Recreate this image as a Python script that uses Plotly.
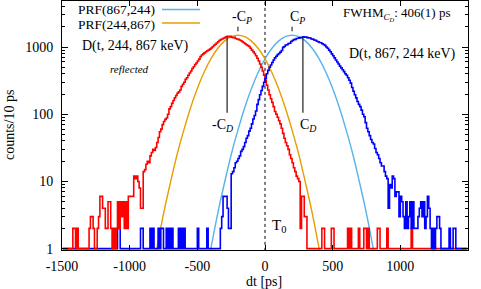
import math
import plotly.graph_objects as go

# ---------------- data ----------------
bin_width = 10
bin_start = -1500
n_bins = 300
bin_centers = [bin_start + bin_width * (i + 0.5) for i in range(n_bins)]

# D(t, 244, 867 keV) reflected  (red) -- counts per 10 ps bin, rows of 100 ps starting at -1500
red_counts = [
    1, 1, 1, 1, 1, 1, 1, 1, 2, 2,            # -1500
    1, 2, 1, 1, 1, 1, 1, 1, 1, 1,            # -1400
    2, 3, 3, 2, 1, 1, 2, 3, 6, 6,            # -1300
    4, 4, 2, 2, 5, 5, 2, 1, 2, 1,            # -1200
    2, 5, 2, 5, 3, 5, 2, 5, 2, 6,            # -1100
    6, 6, 6, 12, 11, 12, 10, 8, 4, 4,        # -1000
    14, 15, 18, 20, 19, 24, 27, 30, 29, 32,  # -900
    38, 45, 55, 60, 70, 78, 84, 88, 100, 120,        # -800
    130, 145, 160, 175, 190, 205, 215, 230, 260, 280,  # -700
    300, 330, 350, 380, 410, 440, 480, 510, 550, 580,  # -600
    620, 660, 720, 760, 790, 820, 850, 880, 900, 930,  # -500
    970, 1010, 1060, 1100, 1150, 1200, 1250, 1290, 1320, 1350,  # -400
    1380, 1420, 1450, 1430, 1440, 1400, 1380, 1390, 1340, 1320,  # -300
    1300, 1270, 1240, 1200, 1160, 1120, 1080, 1050, 1020, 960,   # -200
    900, 850, 800, 740, 680, 620, 560, 500, 440, 380,            # -100
    320, 270, 230, 195, 170, 150, 130, 110, 100, 90,   # 0
    80, 72, 62, 52, 44, 38, 34, 30, 25, 22,            # 100
    19, 16, 14, 12, 11, 10, 2, 6, 6, 3,                # 200
    3, 1, 1, 1, 1, 1, 1, 1, 1, 1,                      # 300
    1, 1, 2, 2, 1, 1, 1, 1, 1, 2,                      # 400
    2, 1, 1, 1, 1, 1, 1, 1, 1, 1,                      # 500
    1, 2, 1, 2, 1, 1, 1, 1, 1, 2,                      # 600
    1, 1, 1, 2, 2, 1, 2, 1, 1, 1,                      # 700
    1, 1, 1, 2, 2, 1, 1, 1, 1, 1,                      # 800
    2, 1, 1, 1, 1, 1, 1, 1, 1, 1,                      # 900
    1, 1, 1, 1, 1, 1, 1, 1, 2, 1,                      # 1000
    1, 1, 1, 1, 1, 1, 1, 1, 1, 1,                      # 1100
    1, 1, 1, 1, 1, 1, 1, 1, 1, 1,                      # 1200
    1, 1, 1, 1, 1, 1, 1, 1, 1, 1,                      # 1300
    1, 1, 1, 1, 1, 1, 1, 1, 1, 1,                      # 1400
]

# D(t, 867, 244 keV)  (blue)
blue_counts = [
    1, 1, 1, 1, 1, 1, 1, 1, 1, 1,            # -1500
    1, 1, 1, 1, 1, 1, 1, 1, 1, 1,            # -1400
    1, 1, 1, 1, 1, 1, 1, 1, 1, 1,            # -1300
    1, 1, 1, 1, 1, 1, 1, 1, 1, 1,            # -1200
    1, 2, 2, 1, 1, 1, 1, 1, 1, 1,            # -1100
    1, 1, 1, 1, 1, 1, 1, 1, 2, 2,            # -1000
    1, 1, 1, 1, 1, 2, 1, 2, 1, 1,            # -900
    1, 2, 1, 2, 2, 1, 1, 2, 1, 2,            # -800
    1, 2, 1, 1, 1, 1, 2, 1, 2, 1,            # -700
    2, 1, 1, 1, 1, 1, 1, 1, 1, 1,            # -600
    2, 1, 1, 1, 1, 1, 1, 2, 1, 1,            # -500
    1, 1, 1, 1, 1, 1, 1, 2, 3, 6,            # -400
    6, 6, 4, 2, 2, 13, 14, 16, 19, 20,       # -300
    22, 24, 28, 30, 33, 38, 44, 48, 56, 62,  # -200
    72, 85, 96, 112, 140, 165, 195, 225, 260, 300,     # -100
    340, 400, 450, 500, 540, 590, 640, 690, 730, 770,  # 0
    800, 840, 890, 990, 1020, 1070, 1080, 1130, 1140, 1210,   # 100
    1250, 1290, 1300, 1340, 1350, 1370, 1380, 1400, 1420, 1400,  # 200
    1410, 1380, 1370, 1360, 1320, 1310, 1270, 1260, 1220, 1200,  # 300
    1170, 1160, 1120, 1090, 1060, 1000, 960, 900, 850, 790,      # 400
    740, 690, 640, 600, 560, 520, 490, 460, 430, 400,  # 500
    380, 350, 320, 290, 250, 220, 195, 175, 155, 140,  # 600
    130, 115, 100, 92, 75, 62, 55, 48, 42, 38,         # 700
    36, 31, 27, 25, 22, 19, 17, 17, 14, 12,            # 800
    11, 4, 9, 8, 12, 11, 6, 7, 7, 3,                   # 900
    6, 5, 3, 2, 5, 2, 3, 5, 2, 5,                      # 1000
    2, 2, 2, 3, 4, 5, 3, 5, 2, 3,                      # 1100
    6, 4, 2, 1, 2, 1, 2, 3, 3, 2,                      # 1200
    1, 1, 1, 1, 1, 1, 2, 1, 1, 2,                      # 1300
    2, 1, 1, 1, 1, 1, 1, 1, 1, 1,                      # 1400
]

# PRF curves (sampled every 50 ps)
prf_867_244_dt = list(range(-450, 851, 50))
prf_867_244_counts = [0.28, 1.0, 3.3, 9.4, 25, 58, 125, 242, 422, 666, 950, 1225, 1426, 1500,
                      1426, 1225, 950, 666, 422, 242, 125, 58, 25, 9.4, 3.3, 1.0, 0.28]
prf_244_867_dt = list(range(-850, 451, 50))
prf_244_867_counts = [0.28, 1.0, 3.3, 9.4, 25, 58, 125, 242, 422, 666, 950, 1225, 1426, 1500,
                      1426, 1225, 950, 666, 422, 242, 125, 58, 25, 9.4, 3.3, 1.0, 0.28]

t0 = 0
c_d = 280          # centroid of D
c_p = 200          # centroid of PRF
cd_line_counts = [105, 1420]
cp_tick_counts = [1720, 2000]

# ---------------- figure ----------------
RED = "#ff0000"
BLUE = "#0000ff"
SKY = "#56b4e9"
ORANGE = "#e69f00"
FONT = "Liberation Serif"

fig = go.Figure()

# T0 dotted line
fig.add_trace(go.Scatter(x=[t0, t0], y=[0.5, 10000], mode="lines",
                         line=dict(color="black", width=1, dash="dot"), hoverinfo="skip"))

# PRFs
fig.add_trace(go.Scatter(x=prf_867_244_dt, y=prf_867_244_counts, mode="lines",
                         line=dict(color=SKY, width=1.4, shape="spline")))
fig.add_trace(go.Scatter(x=prf_244_867_dt, y=prf_244_867_counts, mode="lines",
                         line=dict(color=ORANGE, width=1.4, shape="spline")))

split = n_bins // 2
# blue left tail below red, blue right part above red
fig.add_trace(go.Scatter(x=bin_centers[:split + 1], y=blue_counts[:split + 1], mode="lines",
                         line=dict(color=BLUE, width=1.6, shape="hvh")))
fig.add_trace(go.Scatter(x=bin_centers, y=red_counts, mode="lines",
                         line=dict(color=RED, width=1.6, shape="hvh")))
fig.add_trace(go.Scatter(x=bin_centers[split - 1:], y=blue_counts[split - 1:], mode="lines",
                         line=dict(color=BLUE, width=1.6, shape="hvh")))

# C_D lines and C_P ticks
for xv in (-c_d, c_d):
    fig.add_trace(go.Scatter(x=[xv, xv], y=cd_line_counts, mode="lines",
                             line=dict(color="#303030", width=1.3)))
for xv in (-c_p, c_p):
    fig.add_trace(go.Scatter(x=[xv, xv], y=cp_tick_counts, mode="lines",
                             line=dict(color="#303030", width=1.2)))

L, R, T, B = 62, 13, 1, 39
W, H = 481, 289
pw, ph = W - L - R, H - T - B


def px(xp):
    return (xp - L) / pw


def py(yp):
    return (H - B - yp) / ph


ann = []


def txt(x, y, s, size=14, xanchor="center", angle=0, **kw):
    ann.append(dict(x=px(x), y=py(y), xref="paper", yref="paper", text=s, showarrow=False,
                    xanchor=xanchor, yanchor="middle", textangle=angle,
                    font=dict(family=FONT, size=size, color="black"), **kw))


txt(157, 9.5, "PRF(867,244)", size=13.5, xanchor="right")
txt(157, 24, "PRF(244,867)", size=13.5, xanchor="right")
txt(242, 17, "-C<sub><i>P</i></sub>")
txt(297, 17, "C<sub><i>P</i></sub>")
txt(222, 125, "-C<sub><i>D</i></sub>")
txt(308, 125, "C<sub><i>D</i></sub>")
txt(279, 226, "T<sub>0</sub>", size=15)
txt(135, 46, "D(t, 244, 867 keV)")
txt(129, 69, "<i>reflected</i>", size=11)
txt(402, 54, "D(t, 867, 244 keV)")
txt(396, 14, "FWHM<sub><i>C<sub>D</sub></i></sub>: 406(1) ps", size=13)
txt(264, 281.5, "dt [ps]")
txt(9, 125, "counts/10 ps", angle=-90)

shapes = [
    dict(type="line", xref="paper", yref="paper", x0=px(162), x1=px(200), y0=py(9.5), y1=py(9.5),
         line=dict(color=SKY, width=1.4)),
    dict(type="line", xref="paper", yref="paper", x0=px(162), x1=px(200), y0=py(23), y1=py(23),
         line=dict(color=ORANGE, width=1.4)),
]

fig.update_layout(
    width=W, height=H,
    margin=dict(l=L, r=R, t=T, b=B, pad=0),
    paper_bgcolor="white", plot_bgcolor="white",
    showlegend=False,
    annotations=ann, shapes=shapes,
    font=dict(family=FONT, size=14, color="black"),
)
fig.update_xaxes(range=[-1500, 1500], tickvals=[-1500, -1000, -500, 0, 500, 1000, 1500],
                 ticktext=["-1500", "-1000", "-500", "0", "500", "1000", "1500"],
                 ticks="inside", ticklen=5, tickcolor="black", showline=True, linecolor="black",
                 linewidth=1, mirror="allticks", showgrid=False, zeroline=False,
                 ticklabelstandoff=3, tickfont=dict(family=FONT, size=14))
fig.update_yaxes(type="log", range=[-0.02, 3.685], tickvals=[1, 10, 100, 1000],
                 ticktext=["1", "10", "100", "1000"],
                 ticks="inside", ticklen=6, tickcolor="black", showline=True, linecolor="black",
                 linewidth=1, mirror="allticks", showgrid=False, zeroline=False,
                 minor=dict(ticks="inside", ticklen=3, tickcolor="black", dtick="D1", showgrid=False),
                 ticklabelstandoff=5, tickfont=dict(family=FONT, size=14))

fig.write_html("out.html", config={"displayModeBar": False},
               post_script="document.body.style.margin='0';document.body.style.padding='0';")
